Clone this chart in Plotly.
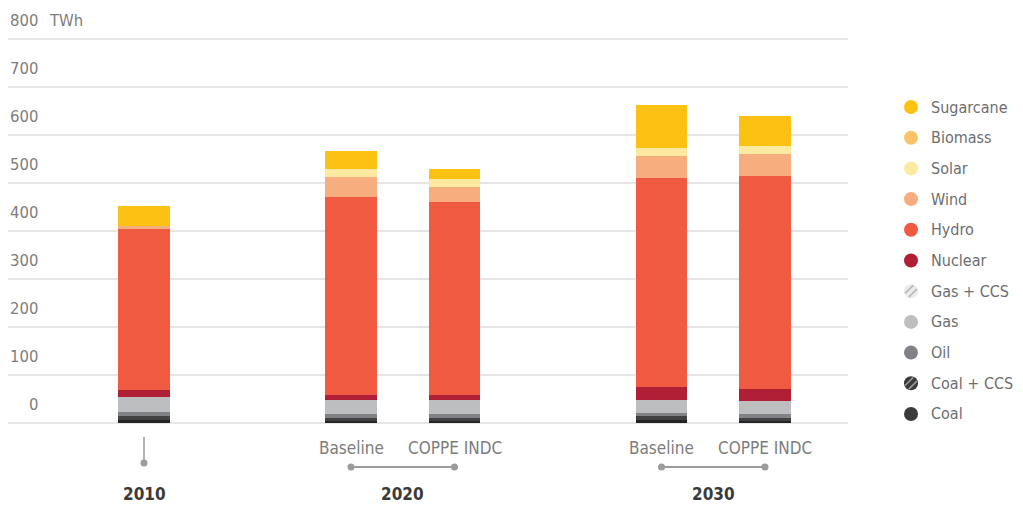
import math
import plotly.graph_objects as go

# groups and scenarios (one bar per scenario)
years = ["2010", "2020", "2030"]
scenarios = [[""], ["Baseline", "COPPE INDC"], ["Baseline", "COPPE INDC"]]

# TWh per bar, in bar order: 2010, 2020 Baseline, 2020 COPPE, 2030 Baseline, 2030 COPPE
coal = [5, 4, 4, 5, 4]
coal_ccs = [8, 6, 6, 8, 6]
oil = [8, 8, 8, 6, 8]
gas = [32, 29, 29, 27, 27]
gas_ccs = [0, 0, 0, 0, 0]
nuclear = [15, 10, 10, 27, 25]
hydro = [335, 412, 402, 437, 444]
wind = [7, 42, 31, 46, 46]
solar = [0, 17, 17, 15, 17]
biomass = [0, 0, 0, 0, 0]
sugarcane = [42, 37.5, 21, 90, 62.5]

y_ticks = [0, 100, 200, 300, 400, 500, 600, 700, 800]

# stack order bottom -> top
series = [
    ("Coal", coal, "#262324"),
    ("Coal + CCS", coal_ccs, "#424143"),
    ("Oil", oil, "#808285"),
    ("Gas", gas, "#bcbec0"),
    ("Gas + CCS", gas_ccs, "#d9d9d9"),
    ("Nuclear", nuclear, "#b01f36"),
    ("Hydro", hydro, "#f05a41"),
    ("Wind", wind, "#f7ae7f"),
    ("Solar", solar, "#fde9a0"),
    ("Biomass", biomass, "#fdc36b"),
    ("Sugarcane", sugarcane, "#fcc112"),
]

FONT = "DejaVu Sans Condensed, Liberation Sans Narrow, sans-serif"
# the page body adds an 8px margin, so everything is placed 8px up/left
PAGE = 8
W, H = 1023, 505
ML, MR, MT, MB = 0, 183, 22, 88
PW, PH = W - ML - MR, H - MT - MB


def px_x(x):
    # x in screen pixels -> paper coords
    return (x - PAGE - ML) / PW


def px_y(y):
    return (H - MB - (y - PAGE)) / PH


# x slots: one per scenario, one empty slot between years
positions, group_centers = [], []
pos = 0
for yr, scs in zip(years, scenarios):
    group = []
    for sc in scs:
        positions.append(pos)
        group.append(pos)
        pos += 1
    group_centers.append(sum(group) / len(group))
    pos += 1

fig = go.Figure()
for name, vals, color in series:
    fig.add_trace(go.Bar(
        x=positions, y=vals, name=name, width=0.5,
        marker=dict(color=color, line=dict(width=0)),
        showlegend=False,
    ))

unit = 103.5
x0 = -136 / unit
y_scale = 0.48
y0 = -2.5 / y_scale

fig.update_layout(
    width=W, height=H,
    margin=dict(l=ML, r=MR, t=MT, b=MB),
    barmode="stack",
    bargap=0,
    plot_bgcolor="white",
    paper_bgcolor="white",
    font=dict(family=FONT, size=17, color="#7d7d7d"),
    xaxis=dict(range=[x0, x0 + PW / unit], showgrid=False, zeroline=False,
               showticklabels=False, ticks=""),
    yaxis=dict(range=[y0, y0 + PH / y_scale], tickvals=y_ticks, showticklabels=False,
               gridcolor="#e6e6e6", gridwidth=1.5, zeroline=False, ticks=""),
)

ann = []
shapes = []

# y tick labels sit above their gridlines
for v in y_ticks:
    ann.append(dict(x=0, xref="paper", xanchor="right", xshift=30, y=v, yref="y",
                    yanchor="middle", yshift=18, text=str(v), showarrow=False,
                    borderpad=0, borderwidth=0,
                    font=dict(size=16.5, color="#7d7d7d")))
ann.append(dict(x=0, xref="paper", xanchor="left", xshift=39, y=800, yref="y",
                yanchor="middle", yshift=18, text="TWh", showarrow=False,
                font=dict(size=16.5, color="#7d7d7d")))

# scenario labels, brackets and year labels
grey = "#9b9b9b"
i = 0
for yr, scs, c in zip(years, scenarios, group_centers):
    grp = positions[i:i + len(scs)]
    i += len(scs)
    if len(scs) == 1:
        shapes.append(dict(type="line", xref="x", yref="paper", x0=grp[0], x1=grp[0],
                           y0=px_y(437), y1=px_y(463), line=dict(color=grey, width=1.5)))
        dots = [(grp[0], 463)]
    else:
        for p, sc in zip(grp, scs):
            ann.append(dict(x=p, xref="x", y=px_y(448), yref="paper", text=sc,
                            showarrow=False, yanchor="middle",
                            font=dict(size=17, color="#7d7d7d")))
        shapes.append(dict(type="line", xref="x", yref="paper", x0=grp[0], x1=grp[-1],
                           y0=px_y(467), y1=px_y(467), line=dict(color=grey, width=2)))
        dots = [(p, 467) for p in grp]
    for p, yy in dots:
        shapes.append(dict(type="circle", xref="x", yref="paper", xsizemode="pixel",
                           ysizemode="pixel", xanchor=p, yanchor=px_y(yy),
                           x0=-3.5, x1=3.5, y0=-3.5, y1=3.5,
                           fillcolor=grey, line=dict(width=0)))
    ann.append(dict(x=c, xref="x", y=px_y(494), yref="paper", text="<b>%s</b>" % yr,
                    showarrow=False, yanchor="middle",
                    font=dict(size=17, color="#3a3a3a")))

# custom legend with round markers (hatched for CCS)
hatched = {"Coal + CCS": ("#3a3a3a", "#9a9a9a"), "Gas + CCS": ("#ececec", "#b8b8b8")}
row_y = 107
r = 7
for name, vals, color in reversed(series):
    cx, cy = px_x(911), px_y(row_y)
    fill = hatched[name][0] if name in hatched else color
    if name == "Coal":
        fill = "#3a3a3a"
    shapes.append(dict(type="circle", xref="paper", yref="paper", xsizemode="pixel",
                       ysizemode="pixel", xanchor=cx, yanchor=cy,
                       x0=-r, x1=r, y0=-r, y1=r, fillcolor=fill, line=dict(width=0)))
    if name in hatched:
        for d in (-2.6, 2.6):
            h = math.sqrt(r * r - d * d) - 0.8
            ox, oy = d / math.sqrt(2), -d / math.sqrt(2)
            ux = h / math.sqrt(2)
            shapes.append(dict(type="line", xref="paper", yref="paper", xsizemode="pixel",
                               ysizemode="pixel", xanchor=cx, yanchor=cy,
                               x0=ox - ux, y0=oy - ux, x1=ox + ux, y1=oy + ux,
                               line=dict(color=hatched[name][1], width=1.6)))
    ann.append(dict(x=px_x(929), xref="paper", xanchor="left", y=cy, yref="paper",
                    yanchor="middle", text=name, showarrow=False,
                    font=dict(size=16, color="#6d6e71")))
    row_y += 30.7

fig.update_layout(annotations=ann, shapes=shapes)
fig.write_html("out.html")
